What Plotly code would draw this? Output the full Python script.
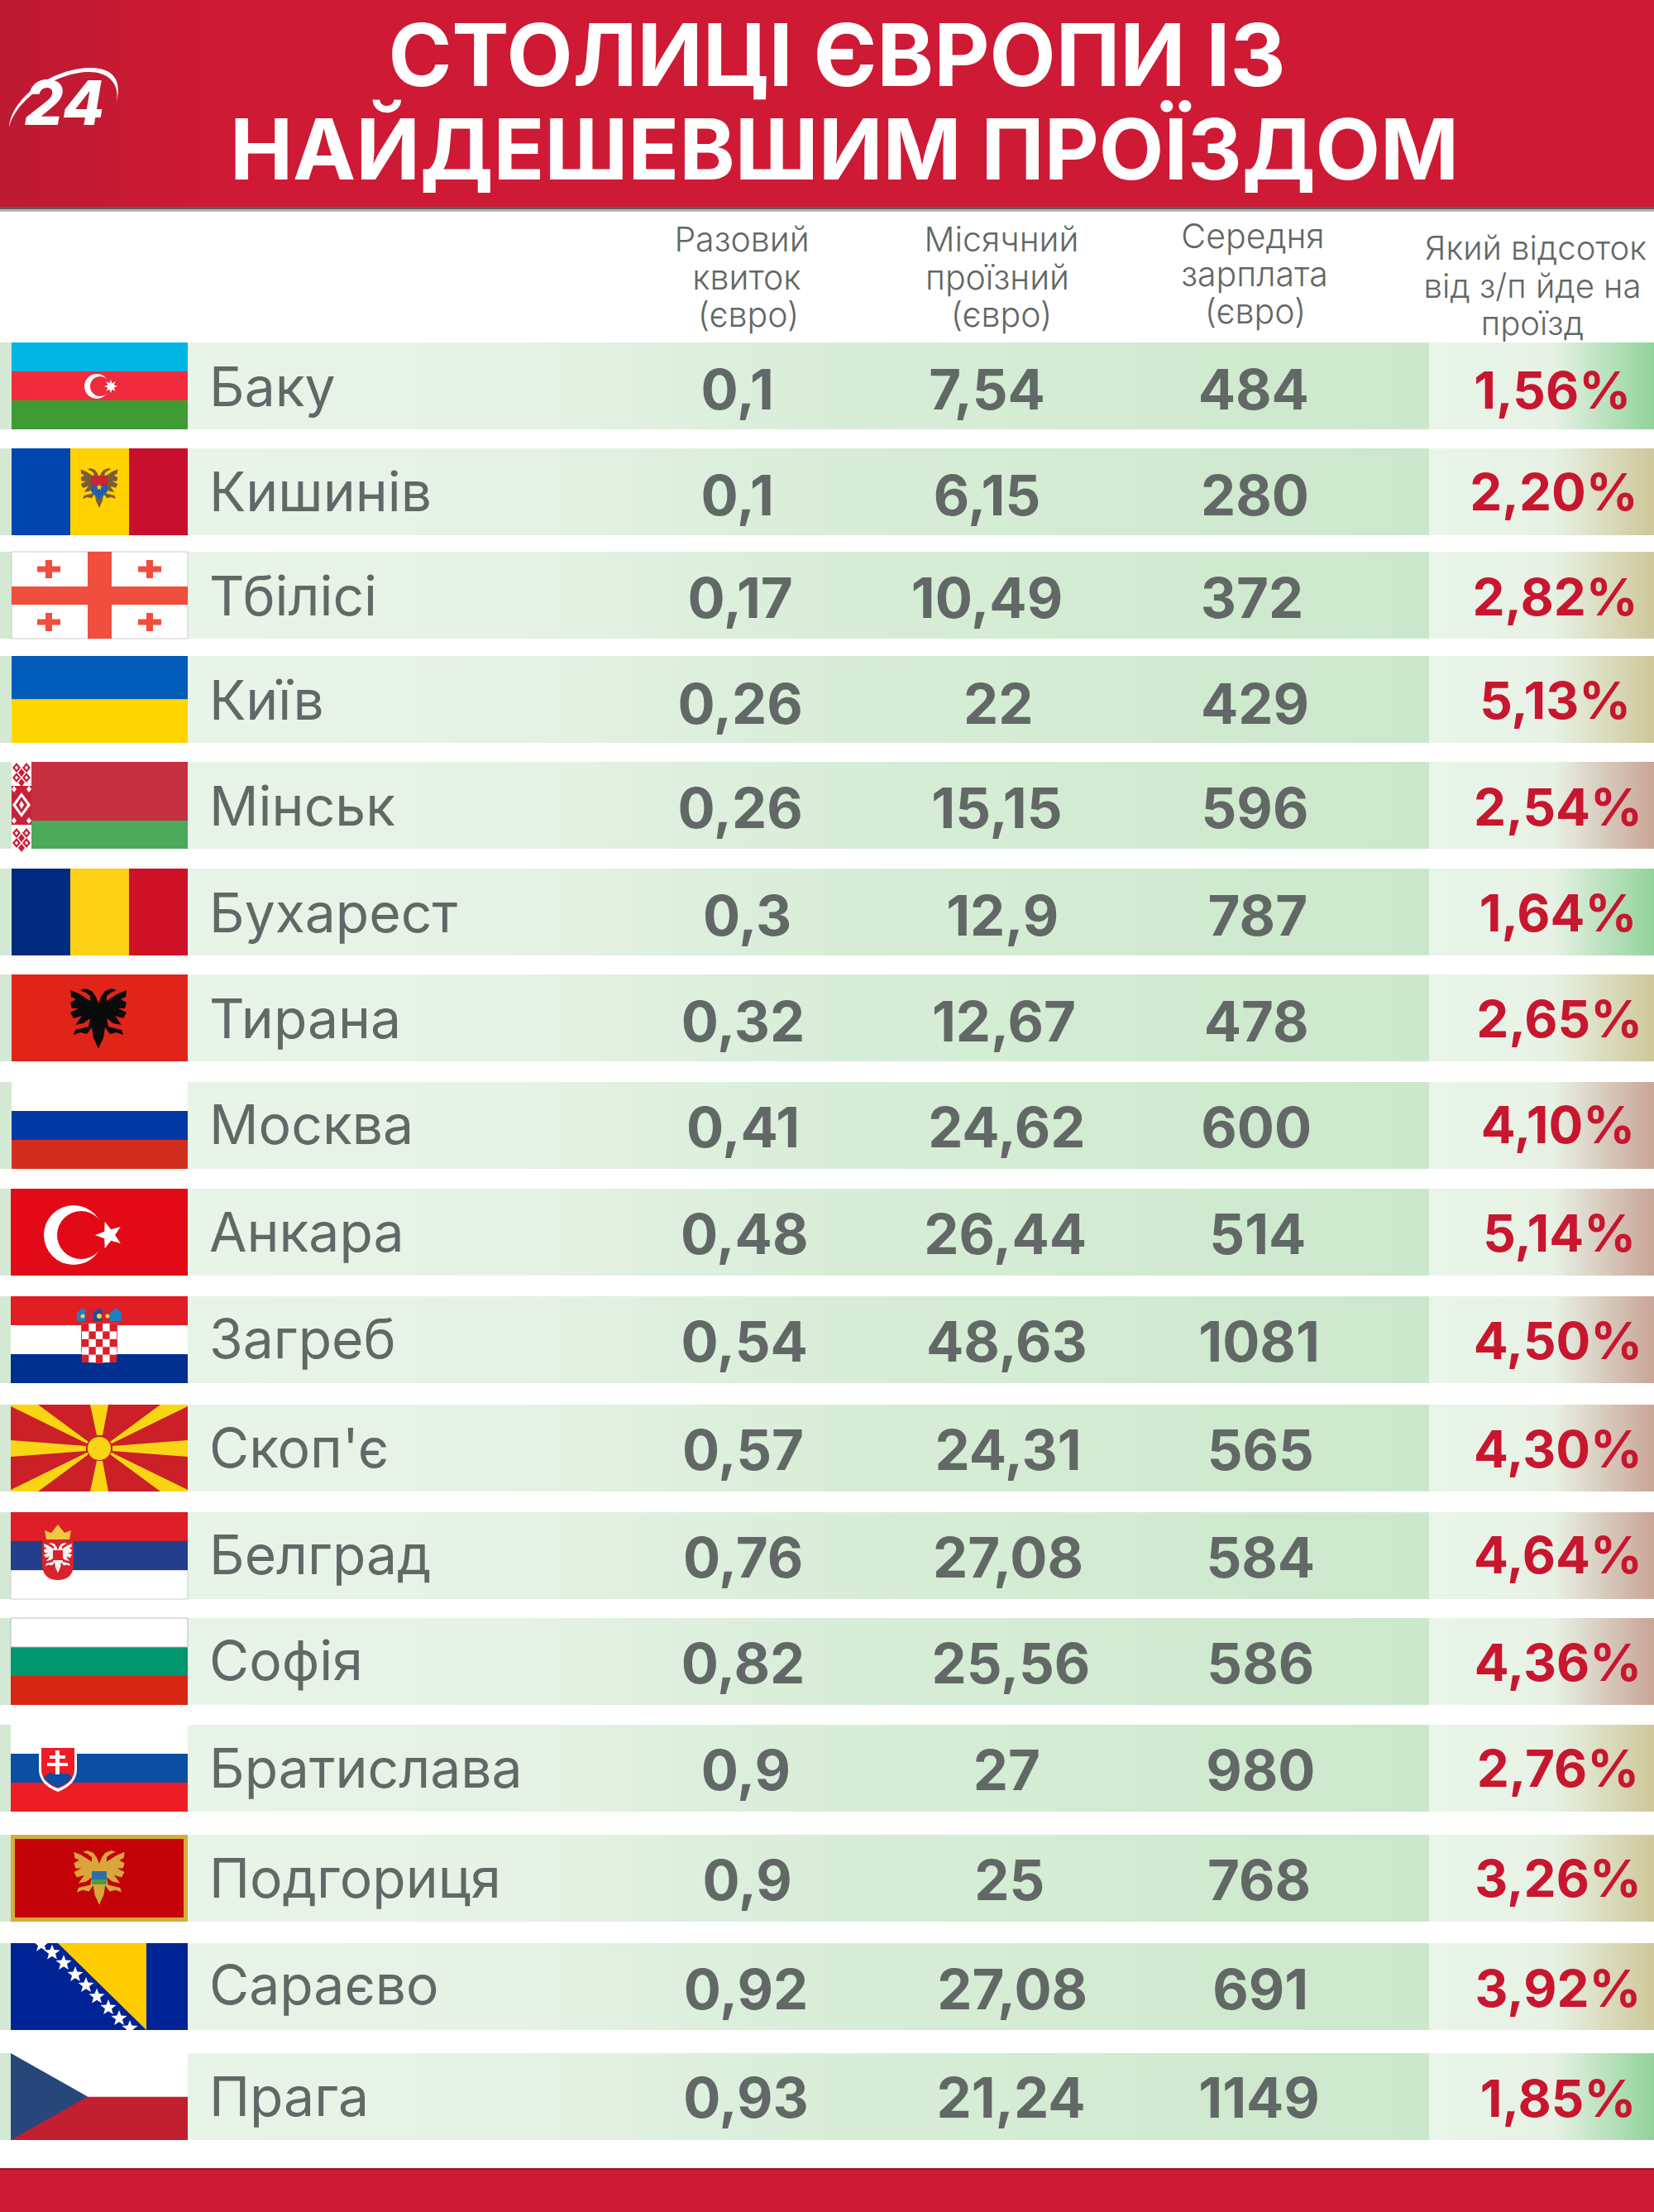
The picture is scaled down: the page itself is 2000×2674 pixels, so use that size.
import math
import numpy as np
import plotly.graph_objects as go

# ===== Data =====
cities = ["Баку", "Кишинів", "Тбілісі", "Київ", "Мінськ", "Бухарест", "Тирана", "Москва", "Анкара",
          "Загреб", "Скоп'є", "Белград", "Софія", "Братислава", "Подгориця", "Сараєво", "Прага"]
ticket = ["0,1", "0,1", "0,17", "0,26", "0,26", "0,3", "0,32", "0,41", "0,48",
          "0,54", "0,57", "0,76", "0,82", "0,9", "0,9", "0,92", "0,93"]
monthly = ["7,54", "6,15", "10,49", "22", "15,15", "12,9", "12,67", "24,62", "26,44",
           "48,63", "24,31", "27,08", "25,56", "27", "25", "27,08", "21,24"]
salary = ["484", "280", "372", "429", "596", "787", "478", "600", "514",
          "1081", "565", "584", "586", "980", "768", "691", "1149"]
share = ["1,56%", "2,20%", "2,82%", "5,13%", "2,54%", "1,64%", "2,65%", "4,10%", "5,14%",
         "4,50%", "4,30%", "4,64%", "4,36%", "2,76%", "3,26%", "3,92%", "1,85%"]
title_lines = ["СТОЛИЦІ ЄВРОПИ ІЗ", "НАЙДЕШЕВШИМ ПРОЇЗДОМ"]
head_ticket = ["Разовий", "квиток", "(євро)"]
head_monthly = ["Місячний", "проїзний", "(євро)"]
head_salary = ["Середня", "зарплата", "(євро)"]
head_share = ["Який відсоток", "від з/п йде на", "проїзд"]

# ===== Placement (pixels of the 2000x2674 page) =====
S = 2000 / 1173
row_tops = [414, 542, 667, 793, 921, 1050, 1178, 1308, 1437, 1567, 1698, 1828, 1956, 2085, 2218, 2349, 2482]
ROW_H = 105
TEXT_DY = 6
city_y = [v * S + TEXT_DY for v in [275, 349, 423, 497, 572, 648, 723, 798, 874, 950, 1027, 1103, 1178, 1254, 1332, 1408, 1487]]
num_y = [v * S + TEXT_DY for v in [277, 352, 425, 500, 574, 650, 725, 800, 876, 952, 1029, 1105, 1180, 1256, 1334, 1411, 1488]]
pct_y = [v * S + TEXT_DY for v in [277, 349, 424, 497, 573, 648, 723, 798, 875, 951, 1028, 1103, 1179, 1254, 1332, 1410, 1488]]
ticket_x = [v * S for v in [523, 523, 525, 525, 525, 530, 527, 527, 528, 528, 527, 527, 527, 529, 530, 529, 529]]
monthly_x = [v * S for v in [700, 700, 700, 708, 707, 711, 712, 714, 713, 714, 715, 715, 717, 714, 716, 718, 717]]
salary_x = [v * S for v in [889, 890, 888, 890, 890, 892, 891, 891, 892, 893, 894, 894, 894, 894, 893, 894, 893]]
share_x = [v * S for v in [1101, 1102, 1103, 1103, 1105, 1105, 1106, 1105, 1106, 1105, 1105, 1105, 1105, 1105, 1105, 1105, 1105]]

GREEN, TAN, PINK = "#93D39B", "#CFC89B", "#C9A698"
row_ends = [GREEN, TAN, TAN, TAN, PINK, GREEN, TAN, PINK, PINK, PINK, PINK, PINK, PINK, TAN, TAN, TAN, GREEN]

RED = "#CE1A34"
GRAY = "#626865"
PCT_RED = "#C8162F"
FONT = "Inter"

fig = go.Figure()
shapes = []


def gradient(x0, x1, y0, y1, stops):
    # horizontal colour ramp, drawn as a one-row heatmap
    fig.add_trace(go.Heatmap(x=np.linspace(x0, x1, 81), y=[y0, y1], z=[np.linspace(0, 1, 80)],
                             colorscale=stops, zmin=0, zmax=1, showscale=False, hoverinfo="skip"))


def rect(x0, y0, x1, y1, color, layer="above", line=None):
    shapes.append(dict(type="rect", x0=x0, y0=y0, x1=x1, y1=y1, fillcolor=color, layer=layer,
                       line=dict(width=0) if line is None else dict(width=1, color=line)))


def poly(points, color, line=None):
    path = "M" + " L".join(f"{px:.2f} {py:.2f}" for px, py in points) + " Z"
    shapes.append(dict(type="path", path=path, fillcolor=color, layer="above",
                       line=dict(width=0) if line is None else dict(width=1, color=line)))


def svg(path, color):
    shapes.append(dict(type="path", path=path, fillcolor=color, layer="above", line=dict(width=0)))


def circle(cx, cy, r, color):
    shapes.append(dict(type="circle", x0=cx - r, x1=cx + r, y0=cy - r, y1=cy + r, fillcolor=color,
                       layer="above", line=dict(width=0)))


def star(cx, cy, r, color, n=5, inner=0.42, rot=-90):
    pts = []
    for k in range(2 * n):
        rad = r if k % 2 == 0 else r * inner
        a = math.radians(rot + k * 180 / n)
        pts.append((cx + rad * math.cos(a), cy + rad * math.sin(a)))
    poly(pts, color)


def diamond(cx, cy, rx, ry, color):
    poly([(cx, cy - ry), (cx + rx, cy), (cx, cy + ry), (cx - rx, cy)], color)


def hstripes(top, colors, x0=14, x1=227):
    for k, c in enumerate(colors):
        rect(x0, top + k * ROW_H / len(colors), x1, top + (k + 1) * ROW_H / len(colors), c)


def eagle(cx, top, sc, color):
    half = [(0, 18), (-3, 10), (-8, 3), (-16, 0), (-22, 2), (-15, 5), (-10, 9), (-10, 15), (-24, 6), (-34, 2),
            (-33, 10), (-27, 13), (-34, 17), (-32, 24), (-24, 24), (-34, 29), (-30, 36), (-20, 33), (-28, 44),
            (-18, 42), (-10, 36), (-12, 46), (-28, 50), (-30, 56), (-22, 53), (-14, 55), (-8, 47), (-6, 60),
            (-3, 66), (0, 73)]
    left = [(cx + dx * sc, top + dy * sc) for dx, dy in half]
    right = [(cx - dx * sc, top + dy * sc) for dx, dy in reversed(half)]
    poly(left + right, color)


# ===== Header, footer =====
gradient(0, 2000, 0, 250, [[0, "#BE1A32"], [0.12, RED], [1, RED]])
rect(0, 250, 2000, 253, "#5E5E5E", layer="below")
rect(0, 253, 2000, 256, "#B9B9B9", layer="below")
rect(0, 2621, 2000, 2674, RED, layer="below")
rect(0, 2621, 2000, 2623, "#8A1826")

# logo
svg("M11 154 C14 115 70 80 112 82 C135 83 148 95 141 123 C145 100 130 87 108 87 C70 87 20 118 11 154 Z", "#FFFFFF")

# ===== Table rows =====
for top, end in zip(row_tops, row_ends):
    rect(0, top, 14, top + ROW_H, "#D3E9D3", layer="below")
    gradient(227, 1728, top, top + ROW_H, [[0, "#E9F4E9"], [0.25, "#E6F2E6"], [0.52, "#D8EDD8"], [1, "#CCE8CC"]])
    gradient(1728, 2000, top, top + ROW_H, [[0, "#E9F5E9"], [0.55, "#E7F2E5"], [1, end]])

# ===== Flags =====
T = dict(zip(cities, row_tops))

# Azerbaijan
t = T["Баку"]
hstripes(t, ["#00B5E2", "#EF2B3D", "#3F9C35"])
circle(117, t + 53, 15, "#FFFFFF")
circle(121, t + 53, 12, "#EF2B3D")
star(134, t + 53, 8, "#FFFFFF", n=8, inner=0.5)

# Moldova
t = T["Кишинів"]
rect(14, t, 85, t + ROW_H, "#0046AE")
rect(85, t, 156, t + ROW_H, "#FFD200")
rect(156, t, 227, t + ROW_H, "#C8102E")
eagle(120, t + 24, 0.66, "#7D5C33")
rect(110, t + 33, 130, t + 45, "#C8243A")
poly([(110, t + 45), (130, t + 45), (130, t + 52), (120, t + 62), (110, t + 52)], "#1F5FB0")
star(120, t + 47, 4, "#FFD200")

# Georgia
t = T["Тбілісі"]
rect(14, t, 227, t + ROW_H, "#FFFFFF", line="#CCCCCC")
rect(106, t, 135, t + ROW_H, "#F04E3E")
rect(14, t + 42, 227, t + 64, "#F04E3E")
for cx, cy in [(59, t + 21), (181, t + 21), (59, t + 85), (181, t + 85)]:
    rect(cx - 14, cy - 3.5, cx + 14, cy + 3.5, "#F04E3E")
    rect(cx - 4, cy - 11, cx + 4, cy + 11, "#F04E3E")

# Ukraine
hstripes(T["Київ"], ["#005BBB", "#FFD500"])

# Belarus
t = T["Мінськ"]
rect(14, t, 227, t + 71, "#C63040")
rect(14, t + 71, 227, t + ROW_H, "#4CA85A")
rect(14, t, 38, t + ROW_H, "#FFFFFF")
for dy in [7, 19, 86, 98]:
    for cx in [20, 32]:
        diamond(cx, t + dy, 5, 6, "#C9203A")
        diamond(cx, t + dy, 2, 2.5, "#FFFFFF")
    diamond(26, t + dy + 6, 4, 5, "#C9203A")
rect(14, t + 29, 38, t + 76, "#C9203A")
diamond(26, t + 52, 11, 15, "#FFFFFF")
diamond(26, t + 52, 7, 10, "#C9203A")
diamond(26, t + 52, 3, 5, "#FFFFFF")
for dy in [33, 71]:
    diamond(17, t + dy, 3, 4, "#FFFFFF")
    diamond(35, t + dy, 3, 4, "#FFFFFF")

# Romania
t = T["Бухарест"]
rect(14, t, 85, t + ROW_H, "#002B7F")
rect(85, t, 156, t + ROW_H, "#FCD116")
rect(156, t, 227, t + ROW_H, "#CE1126")

# Albania
t = T["Тирана"]
rect(14, t, 227, t + ROW_H, "#E1241A")
eagle(119, t + 17, 1.0, "#0A0A0A")

# Russia
hstripes(T["Москва"], ["#FFFFFF", "#0039A6", "#D22E20"])

# Turkey
t = T["Анкара"]
rect(13, t, 227, t + ROW_H, "#E30A17")
circle(89, t + 56, 36, "#FFFFFF")
circle(98, t + 56, 29, "#E30A17")
star(132, t + 56, 17, "#FFFFFF", rot=180)

# Croatia
t = T["Загреб"]
hstripes(t, ["#E01E24", "#FFFFFF", "#002F8F"], x0=13)
svg(f"M98 {t + 32} L142 {t + 32} L142 {t + 64} Q142 {t + 81} 120 {t + 81} Q98 {t + 81} 98 {t + 64} Z", "#EE3B44")
rect(99, t + 33, 141, t + 80, "#FFFFFF")
for r_i in range(5):
    for c_i in range(5):
        if (r_i + c_i) % 2 == 0:
            rect(99 + c_i * 8.4, t + 33 + r_i * 9.4, 99 + (c_i + 1) * 8.4, t + 33 + (r_i + 1) * 9.4, "#D8202B")
for cx, c in [(100, "#1F7FC1"), (110, "#C8243A"), (120, "#1E4E9C"), (130, "#C8243A"), (140, "#1F7FC1")]:
    poly([(cx - 7, t + 30), (cx - 7, t + 20), (cx, t + 14), (cx + 7, t + 20), (cx + 7, t + 30)], c)
circle(120, t + 24, 3, "#F3D23A")
circle(100, t + 24, 2.5, "#F3D23A")
circle(130, t + 24, 2.5, "#F3D23A")

# North Macedonia
t = T["Скоп'є"]
rect(13, t, 227, t + ROW_H, "#CB2027")
ray = "#F8D616"
poly([(109, t), (131, t), (124, t + 37), (117, t + 37)], ray)
poly([(109, t + ROW_H), (131, t + ROW_H), (124, t + 68), (117, t + 68)], ray)
poly([(13, t + 43), (104, t + 50), (104, t + 56), (13, t + 63)], ray)
poly([(227, t + 43), (136, t + 50), (136, t + 56), (227, t + 63)], ray)
poly([(13, t), (46, t), (107, t + 45), (105, t + 47), (13, t + 2)], ray)
poly([(227, t), (194, t), (133, t + 45), (135, t + 47), (227, t + 2)], ray)
poly([(13, t + ROW_H), (46, t + ROW_H), (107, t + 60), (105, t + 58), (13, t + ROW_H - 2)], ray)
poly([(227, t + ROW_H), (194, t + ROW_H), (133, t + 60), (135, t + 58), (227, t + ROW_H - 2)], ray)
circle(120, t + 53, 14, ray)

# Serbia
t = T["Белград"]
rect(13, t + 70, 227, t + ROW_H, "#FFFFFF", line="#CCCCCC")
rect(13, t, 227, t + 35, "#DD1E26")
rect(13, t + 35, 227, t + 70, "#233E8B")
svg(f"M51 {t + 34} L89 {t + 34} L89 {t + 62} Q89 {t + 82} 70 {t + 82} Q51 {t + 82} 51 {t + 62} Z", "#D8232D")
eagle(70, t + 37, 0.5, "#F2F2F2")
rect(64, t + 46, 76, t + 58, "#D8232D")
poly([(56, t + 33), (54, t + 22), (62, t + 25), (70, t + 15), (78, t + 25), (86, t + 22), (84, t + 33)], "#F2C63F")

# Bulgaria
t = T["Софія"]
hstripes(t, ["#FFFFFF", "#00966E", "#D62612"], x0=13)
rect(13, t, 227, t + 35, "#FFFFFF", line="#BBBBBB")

# Slovakia
t = T["Братислава"]
hstripes(t, ["#FFFFFF", "#0B4EA2", "#EE1C25"], x0=13)
svg(f"M47 {t + 25} L93 {t + 25} L93 {t + 54} Q93 {t + 72} 70 {t + 81} Q47 {t + 72} 47 {t + 54} Z", "#FFFFFF")
svg(f"M50 {t + 28} L90 {t + 28} L90 {t + 54} Q90 {t + 70} 70 {t + 77} Q50 {t + 70} 50 {t + 54} Z", "#EE1C25")
svg(f"M53 {t + 64} Q60 {t + 55} 66 {t + 60} Q70 {t + 52} 76 {t + 60} Q82 {t + 56} 87 {t + 64} "
    f"Q82 {t + 71} 70 {t + 76} Q58 {t + 71} 53 {t + 64} Z", "#0B4EA2")
rect(67, t + 31, 72, t + 60, "#FFFFFF")
rect(60, t + 37, 79, t + 41, "#FFFFFF")
rect(57, t + 46, 82, t + 50, "#FFFFFF")

# Montenegro
t = T["Подгориця"]
rect(13, t, 227, t + ROW_H, "#D4AF37")
rect(18, t + 5, 222, t + ROW_H - 5, "#C40308")
eagle(120, t + 19, 0.9, "#D9A63C")
rect(111, t + 44, 129, t + 58, "#2C6FA8")
rect(111, t + 54, 129, t + 60, "#4E9A48")

# Bosnia
t = T["Сараєво"]
rect(13, t, 227, t + ROW_H, "#002395")
poly([(70, t), (177, t), (177, t + ROW_H)], "#FECB00")
for dx, dy in [(50, 1.6), (63, 11.5), (77, 24), (91, 38), (104, 51), (117, 64.5), (131, 78), (144, 91), (157, 103)]:
    star(dx, t + dy, 10, "#FFFFFF")
rect(13, t - 11, 227, t, "#FFFFFF")
rect(13, t + ROW_H, 227, t + ROW_H + 11, "#FFFFFF")

# Czechia
t = T["Прага"]
rect(13, t + 52.5, 227, t + ROW_H, "#C21F30")
rect(13, t, 227, t + 52.5, "#FFFFFF")
poly([(13, t), (106, t + 52.5), (13, t + ROW_H)], "#27477A")


# ===== Text =====
def text_col(x, y, labels, size, color, weight=400, pos="middle center", style="normal"):
    fig.add_trace(go.Scatter(x=x, y=y, text=labels, mode="text", textposition=pos, hoverinfo="skip",
                             textfont=dict(family=FONT, size=size, color=color, weight=weight, style=style)))


text_col([1012], [78], title_lines[:1], 104, "#FFFFFF", weight=700)
text_col([1021], [191], title_lines[1:], 102, "#FFFFFF", weight=700)
text_col([78], [132], ["24"], 74, "#FFFFFF", weight=800, style="italic")

text_col([897, 903, 905], [294, 340, 385], head_ticket, 41, GRAY, weight=300)
text_col([1211, 1206, 1211], [294, 340, 385], head_monthly, 41, GRAY, weight=300)
text_col([1515, 1517, 1518], [290, 336, 381], head_salary, 41, GRAY, weight=300)
text_col([1857, 1853, 1853], [304, 350, 395], head_share, 40, GRAY, weight=300)

text_col([253] * len(cities), city_y, cities, 66, GRAY, pos="middle right")
text_col(ticket_x, num_y, ticket, 67, GRAY, weight=700)
text_col(monthly_x, num_y, monthly, 67, GRAY, weight=700)
text_col(salary_x, num_y, salary, 67, GRAY, weight=700)
text_col(share_x, pct_y, share, 62, PCT_RED, weight=700)

# ===== Layout =====
fig.update_layout(
    width=2000, height=2674,
    margin=dict(l=0, r=0, t=0, b=0),
    paper_bgcolor="#FFFFFF", plot_bgcolor="#FFFFFF",
    showlegend=False,
    shapes=shapes,
)
fig.update_xaxes(visible=False, range=[0, 2000], fixedrange=True)
fig.update_yaxes(visible=False, range=[2674, 0], fixedrange=True)

fig.write_html("out.html", config=dict(displayModeBar=False), post_script="document.body.style.margin='0';")
